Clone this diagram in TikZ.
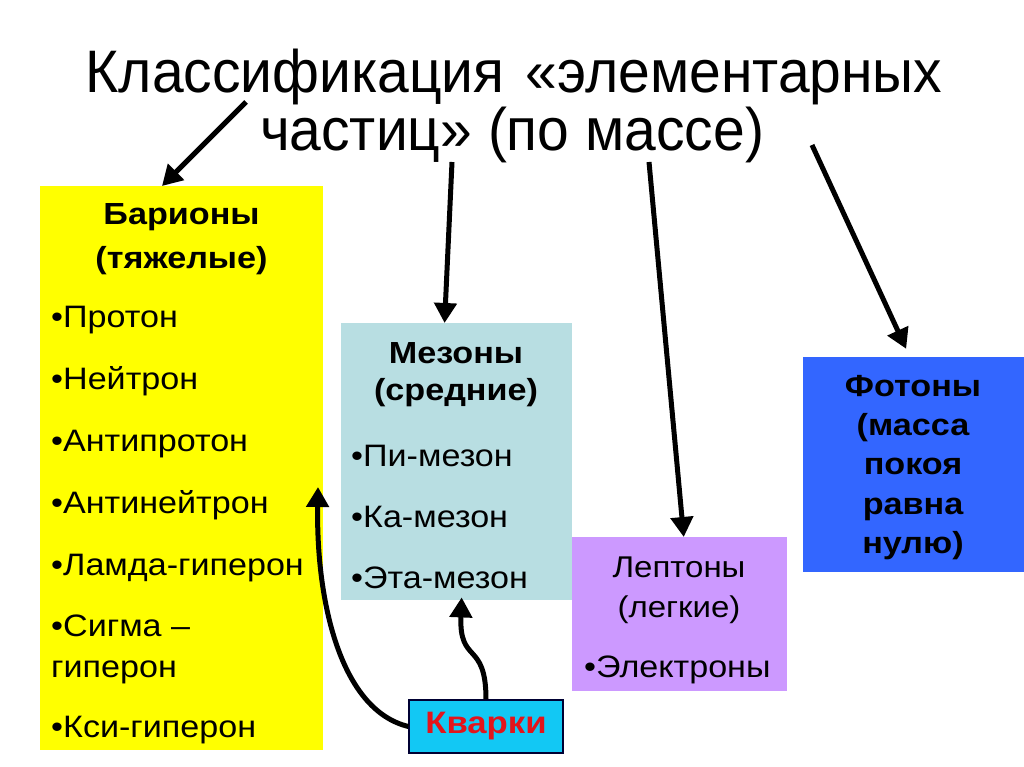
\documentclass[tikz,border=0pt]{standalone}
\usepackage{fontspec}
\setmainfont{Liberation Sans}
\newfontfamily\titlefont[FakeStretch=0.95]{Liberation Sans}
\newfontfamily\bodyfont[FakeStretch=1.1]{Liberation Sans}
\newfontfamily\headfont[FakeStretch=1.12]{Liberation Sans}
\usepackage{tikz}
\usetikzlibrary{arrows.meta}
\usepackage{xcolor}

\definecolor{baryellow}{HTML}{FFFF00}
\definecolor{mesblue}{HTML}{B8DEE2}
\definecolor{leplilac}{HTML}{CC99FF}
\definecolor{fotblue}{HTML}{3366FF}
\definecolor{kvcyan}{HTML}{12C8F4}
\definecolor{kvred}{HTML}{E3141B}

\begin{document}
\begin{tikzpicture}[x=1pt,y=-1pt,
		box/.style={inner sep=0pt,anchor=north west},
		head/.style={inner sep=0pt,anchor=base,font=\fontsize{30.5}{31}\headfont\bfseries},
		item/.style={inner sep=0pt,anchor=base west,font=\fontsize{31}{32}\bodyfont},
		arr/.style={line width=5pt,-{Triangle[length=20pt,width=22pt]}}]
	\useasboundingbox[fill=white] (0,0) rectangle (1024,767);
	% title
	\node[inner sep=0pt,anchor=base,font=\fontsize{60}{60}\titlefont] (t1) at (514,93) {Классификация\hspace{0.35em}«элементарных};
	\node[inner sep=0pt,anchor=base,font=\fontsize{60}{60}\titlefont] (t2) at (512,151) {частиц» (по массе)};
	% boxes
	\node[box,fill=baryellow,minimum width=283pt,minimum height=564pt] (bar) at (40,186) {};
	\node[box,fill=mesblue,minimum width=231pt,minimum height=277pt] (mes) at (341,323) {};
	\node[box,fill=leplilac,minimum width=215pt,minimum height=154pt] (lep) at (572,537) {};
	\node[box,fill=fotblue,minimum width=221pt,minimum height=215pt] (fot) at (803,357) {};
	\node[fill=kvcyan,draw=black!80!blue,line width=1.2pt,minimum width=154pt,minimum height=53pt,
		font=\fontsize{31}{31}\headfont\bfseries,text=kvred] (kv) at (486,726.5) {Кварки};
	% baryons
	\node[head] (barh1) at (181.5,225) {Барионы};
	\node[head] (barh2) at (181.5,268) {(тяжелые)};
	\foreach \txt/\y/\n in {•Протон/327/1,•Нейтрон/389/2,•Антипротон/451/3,•Антинейтрон/513/4,
		•Ламда-гиперон/575/5,•Сигма –/636/6,гиперон/677/7,•Кси-гиперон/737/8}
		\node[item] (bari\n) at (51,\y) {\txt};
	% mesons
	\node[head] (mesh1) at (456,363) {Мезоны};
	\node[head] (mesh2) at (456,400) {(средние)};
	\foreach \txt/\y/\n in {•Пи-мезон/466/1,•Ка-мезон/527/2,•Эта-мезон/588/3}
		\node[item] (mesi\n) at (351,\y) {\txt};
	% leptons
	\node[head,font=\fontsize{30}{30}\bodyfont] (leph1) at (679,577) {Лептоны};
	\node[head,font=\fontsize{30}{30}\bodyfont] (leph2) at (679,617) {(легкие)};
	\node[item] (lepi1) at (584,677) {•Электроны};
	% photons
	\foreach \txt/\y/\n in {Фотоны/396/1,{(масса}/435/2,покоя/474/3,равна/514/4,{нулю)}/553/5}
		\node[head] (foth\n) at (913,\y) {\txt};
	% arrows
	\coordinate (s1) at (246,102);
	\coordinate (s2) at (452,162);
	\coordinate (s3) at (649,162);
	\coordinate (s4) at (812,145);
	\coordinate (bartip) at (318,487);
	\draw[arr] (s1) -- (bar.94);
	\draw[arr] (s2) -- (mes.95.4);
	\draw[arr] (s3) -- (lep.87);
	\draw[arr,shorten >=9pt] (s4) -- (fot.92.7);
	\draw[arr] (kv.west) .. controls (340,710) and (316,600) .. (bartip);
	\draw[arr,shorten >=-3pt] (kv.north) .. controls (486,640) and (459,665) .. (mes.-88.8);
\end{tikzpicture}
\end{document}
